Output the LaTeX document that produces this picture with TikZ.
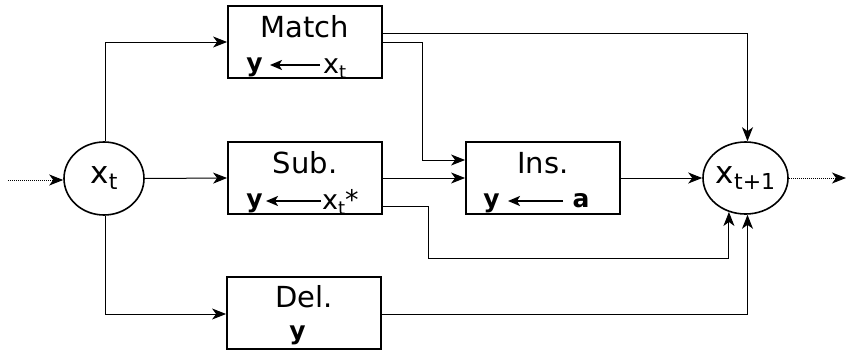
\documentclass[tikz,border=0pt]{standalone}
\usepackage{fontspec}
\setmainfont{DejaVu Sans}
\usetikzlibrary{arrows.meta,shapes.geometric,calc}
\newcommand{\sbs}[3]{\raisebox{-#2pt}{\fontsize{#1}{#1}\selectfont #3}}
\tikzset{
  opbox/.style={draw, line width=1.8pt, minimum width=154pt, minimum height=72pt, inner sep=0pt},
  state/.style={draw, ellipse, line width=1.6pt, minimum width=80pt, minimum height=73pt, inner sep=0pt, font=\fontsize{31}{31}\selectfont},
  lbl/.style={font=\fontsize{29}{29}\selectfont, inner sep=0pt, anchor=base},
  lbl2/.style={font=\fontsize{27}{27}\selectfont, inner sep=0pt, anchor=base},
  conn/.style={line width=1pt, -{Stealth[length=14pt,width=11pt,inset=4pt]}},
  dconn/.style={conn, densely dotted},
  larrow/.style={line width=1.8pt, -{Stealth[length=12pt,width=10pt,inset=3pt]}}
}
\begin{document}
\begin{tikzpicture}[x=1pt,y=-1pt]
\useasboundingbox (0,0) rectangle (846,351);
% states
\node[state] (xt) at (104,178.5) {x\sbs{22}{6}{t}};
\node[state, minimum width=85pt, minimum height=72pt] (xt1) at (745.5,178) {x\sbs{22}{6}{t+1}};
% boxes
\node[opbox] (match) at (305,42) {};
\node[opbox] (sub) at (305,178) {};
\node[opbox] (ins) at (543,178) {};
\node[opbox] (del) at (304,313) {};
% box texts
\node[lbl] (matcht) at (305,37) {Match};
\node[lbl2] (matchy) at (254.5,71) {\fontsize{25}{25}\selectfont\textbf{y}};
\node[lbl2,anchor=base west] (matchx) at (323,73) {x\sbs{18}{5}{t}};
\draw[larrow] (320,65) -- (270,65);
\node[lbl] (subt) at (305,173) {Sub.};
\node[lbl2] (suby) at (254.5,207) {\fontsize{25}{25}\selectfont\textbf{y}};
\node[lbl2,anchor=base west] (subx) at (322,209) {x\sbs{18}{5}{t}*};
\draw[larrow] (321,201) -- (266,201);
\node[lbl] (inst) at (543,173) {Ins.};
\node[lbl2] (insy) at (491.5,207) {\fontsize{25}{25}\selectfont\textbf{y}};
\node[lbl2] (insa) at (581,207) {\fontsize{25}{25}\selectfont\textbf{a}};
\draw[larrow] (563,201) -- (508,201);
\node[lbl] (delt) at (304,307) {Del.};
\node[lbl2] (dely) at (297.5,339) {\fontsize{25}{25}\selectfont\textbf{y}};
% helper coordinates
\coordinate (in) at (8,180);
\coordinate (out) at (846,178);
\coordinate (mi) at (422,42);
\coordinate (sb) at (428,258);
% connectors
\draw[dconn] (in) -- (in -| xt.west);
\draw[dconn] (xt1.east) -- (out);
\draw[conn] (xt.east) -- (sub.west);
\draw[conn] (xt.87) |- (match.west);
\draw[conn] (xt.-87) |- ([yshift=-1pt]del.west);
\draw[conn] ([yshift=9pt]match.east) -| ([xshift=2pt]xt1.north);
\draw[conn] (match.east) -- (mi) |- ([yshift=18pt]ins.west);
\draw[conn] (sub.east) -- (ins.west);
\draw[conn] ([yshift=-28pt]sub.east) -| (sb) -| (xt1.244);
\draw[conn] (ins.east) -- (xt1.west);
\draw[conn] ([yshift=-1pt]del.east) -| ([xshift=2pt]xt1.south);
\end{tikzpicture}
\end{document}
